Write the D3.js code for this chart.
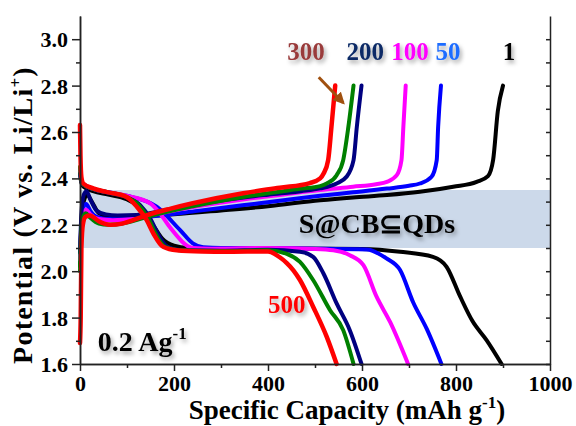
<!DOCTYPE html>
<html>
<head>
<meta charset="utf-8">
<script src="https://cdn.jsdelivr.net/npm/d3@7"></script>
<style>
body { margin: 0; background: #fff; }
svg { display: block; font-family: "Times New Roman", "Liberation Serif", serif; font-weight: bold; }
</style>
</head>
<body>
<svg width="576" height="426"></svg>
<script>
// cycle numbers and their colours
var cycles = ["1", "50", "100", "200", "300", "500"];
var colors = ["#000000", "#0000ff", "#ff00ff", "#000080", "#008000", "#ff0000"];

// charge curves [capacity mAh/g, potential V]
var charge1 = [[0,2.02],[3,2.22],[8,2.30],[15,2.33],[25,2.30],[40,2.25],[60,2.235],[100,2.232],[150,2.238],[200,2.245],[300,2.262],[400,2.28],[511,2.306],[581,2.318],[653,2.328],[723,2.342],[794,2.364],[844,2.385],[868,2.41],[879,2.48],[889,2.69],[900,2.8]];
var charge50 = [[0,2.05],[3,2.2],[8,2.28],[13,2.29],[22,2.26],[35,2.235],[60,2.225],[100,2.228],[170,2.24],[250,2.26],[350,2.285],[450,2.31],[511,2.325],[581,2.34],[653,2.356],[700,2.368],[723,2.378],[748,2.407],[759,2.479],[762,2.622],[768,2.8]];
var charge100 = [[0,2.05],[3,2.18],[8,2.25],[13,2.265],[22,2.245],[40,2.225],[70,2.22],[110,2.225],[170,2.25],[250,2.28],[350,2.31],[450,2.335],[511,2.35],[581,2.364],[630,2.375],[653,2.385],[674,2.414],[684,2.479],[688,2.622],[693,2.8]];
var charge200 = [[0,2.08],[3,2.25],[8,2.33],[14,2.345],[22,2.31],[35,2.262],[55,2.245],[80,2.24],[120,2.242],[200,2.27],[300,2.305],[400,2.33],[470,2.345],[511,2.357],[546,2.378],[567,2.407],[582,2.479],[589,2.622],[599,2.8]];
var charge300 = [[0,2.0],[2,2.15],[6,2.23],[12,2.25],[22,2.23],[40,2.205],[60,2.2],[90,2.205],[120,2.22],[150,2.238],[240,2.28],[347,2.32],[468,2.355],[511,2.367],[525,2.378],[546,2.414],[560,2.479],[571,2.622],[582,2.8]];
var charge500 = [[0,1.69],[1.5,1.8],[3,2.1],[6,2.2],[12,2.235],[21,2.24],[40,2.215],[64,2.2],[90,2.205],[113,2.22],[140,2.24],[193,2.27],[240,2.293],[347,2.336],[425,2.36],[489,2.38],[511,2.40],[518,2.42],[528,2.479],[535,2.622],[543,2.8]];

// discharge curves [capacity mAh/g, potential V]
var discharge1 = [[0,2.42],[3,2.38],[7,2.365],[28,2.345],[60,2.33],[99,2.31],[130,2.27],[155,2.2],[175,2.14],[200,2.11],[230,2.1],[300,2.098],[468,2.098],[600,2.096],[681,2.084],[751,2.062],[780,2.019],[809,1.89],[835,1.785],[865,1.703],[897,1.6]];
var discharge50 = [[0,2.44],[3,2.39],[7,2.375],[28,2.355],[60,2.34],[99,2.325],[163,2.278],[213,2.177],[240,2.12],[262,2.103],[300,2.1],[400,2.1],[468,2.098],[610,2.094],[652,2.055],[681,2.005],[709,1.865],[738,1.75],[769,1.6]];
var discharge100 = [[0,2.44],[3,2.39],[7,2.375],[28,2.355],[60,2.34],[99,2.325],[149,2.293],[170,2.25],[191,2.19],[241,2.1],[280,2.097],[400,2.1],[500,2.096],[539,2.09],[574,2.069],[603,2.026],[631,1.89],[660,1.78],[698,1.6]];
var discharge200 = [[0,2.42],[3,2.39],[7,2.375],[28,2.355],[60,2.338],[99,2.318],[128,2.285],[150,2.225],[165,2.165],[186,2.105],[215,2.09],[300,2.088],[400,2.092],[468,2.084],[496,2.062],[518,1.99],[546,1.861],[574,1.746],[599,1.6]];
var discharge300 = [[0,2.45],[1,2.42],[3,2.39],[7,2.375],[28,2.355],[60,2.34],[99,2.32],[125,2.285],[146,2.225],[160,2.165],[181,2.105],[210,2.09],[300,2.087],[400,2.09],[440,2.075],[468,2.04],[496,1.962],[532,1.832],[560,1.746],[582,1.6]];
var discharge500 = [[0,2.63],[1,2.5],[3,2.405],[7,2.378],[28,2.357],[60,2.34],[99,2.32],[121,2.278],[142,2.22],[156,2.163],[177,2.105],[206,2.09],[260,2.085],[312,2.084],[400,2.085],[425,2.06],[440,2.035],[454,2.004],[468,1.962],[496,1.847],[525,1.717],[546,1.6]];

var chargeCurves = [charge1, charge50, charge100, charge200, charge300, charge500];
var dischargeCurves = [discharge1, discharge50, discharge100, discharge200, discharge300, discharge500];

var xTicks = [0, 200, 400, 600, 800, 1000];
var xMinor = [100, 300, 500, 700, 900];
var yTicks = [1.6, 1.8, 2.0, 2.2, 2.4, 2.6, 2.8, 3.0];
var yMinor = [1.7, 1.9, 2.1, 2.3, 2.5, 2.7, 2.9];
var bandRange = [2.10, 2.35];

var svg = d3.select("svg"),
    margin = {top: 16, right: 26, bottom: 62, left: 80},
    width = +svg.attr("width") - margin.left - margin.right,
    height = +svg.attr("height") - margin.top - margin.bottom,
    g = svg.append("g").attr("transform", "translate(" + margin.left + "," + margin.top + ")");

var x = d3.scaleLinear().domain([0, 1000]).range([0, width]);
var y = d3.scaleLinear().domain([1.6, 3.1]).range([height, 0]);

// soft shadow for the labels
var defs = svg.append("defs");
defs.append("filter").attr("id", "shadow")
    .attr("x", "-20%").attr("y", "-20%").attr("width", "150%").attr("height", "160%")
  .append("feDropShadow").attr("dx", 2).attr("dy", 3).attr("stdDeviation", 2)
    .attr("flood-color", "#000").attr("flood-opacity", 0.35);

defs.append("marker")
    .attr("id", "arrow").attr("viewBox", "0 0 10 10")
    .attr("refX", 8).attr("refY", 5)
    .attr("markerWidth", 4).attr("markerHeight", 4)
    .attr("orient", "auto")
  .append("path").attr("d", "M0,0L10,5L0,10z").attr("fill", "#a0500f");

// shaded band
g.append("rect")
    .attr("x", x(0)).attr("width", x(1000) - x(0))
    .attr("y", y(bandRange[1])).attr("height", y(bandRange[0]) - y(bandRange[1]))
    .attr("fill", "#ccd9ea");

var line = d3.line()
    .x(function(d) { return x(d[0]); })
    .y(function(d) { return y(d[1]); })
    .curve(d3.curveMonotoneX);

// curves, red drawn last
cycles.forEach(function(c, i) {
  [dischargeCurves[i], chargeCurves[i]].forEach(function(data) {
    g.append("path")
        .datum(data)
        .attr("fill", "none")
        .attr("stroke", colors[i])
        .attr("stroke-width", i == 5 ? 4.5 : 4)
        .attr("stroke-linejoin", "round")
        .attr("stroke-linecap", "round")
        .attr("d", line);
  });
});

// axes
function styleAxis(sel) {
  sel.attr("font-family", null).attr("font-size", null);
  sel.selectAll("path, line").attr("stroke", "#222").attr("stroke-width", 1.5);
  sel.selectAll("text").attr("fill", "#000").style("font-size", "22px");
}

g.append("g")
    .attr("transform", "translate(0," + height + ")")
    .call(d3.axisBottom(x).tickValues(xTicks).tickFormat(d3.format("d")).tickSize(7).tickSizeOuter(0))
    .call(styleAxis)
    .selectAll("text").attr("y", 27).attr("dy", 0);

g.append("g")
    .attr("transform", "translate(0," + height + ")")
    .call(d3.axisBottom(x).tickValues(xMinor).tickSize(4).tickFormat("").tickSizeOuter(0))
    .call(styleAxis);

g.append("g")
    .call(d3.axisLeft(y).tickValues(yTicks).tickFormat(d3.format(".1f")).tickSize(8).tickSizeOuter(0))
    .call(styleAxis)
    .selectAll("text").attr("x", -12).attr("dy", "0.34em");

g.append("g")
    .call(d3.axisLeft(y).tickValues(yMinor).tickSize(4).tickFormat("").tickSizeOuter(0))
    .call(styleAxis);

g.append("g")
    .attr("transform", "translate(" + width + ",0)")
    .call(d3.axisLeft(y).tickValues(yTicks.concat(yMinor)).tickSize(4).tickFormat("").tickSizeOuter(0))
    .call(styleAxis);

// axis titles
var xt = svg.append("text")
    .attr("x", 347).attr("y", 419)
    .attr("text-anchor", "middle")
    .style("font-size", "27px")
    .text("Specific Capacity (mAh g");
xt.append("tspan").attr("dy", -11).style("font-size", "17px").text("-1");
xt.append("tspan").attr("dy", 11).text(")");

var yt = svg.append("text")
    .attr("transform", "translate(32,215) rotate(-90)")
    .attr("text-anchor", "middle")
    .style("font-size", "28px")
    .style("letter-spacing", "1.2px")
    .text("Potential (V vs. Li/Li");
yt.append("tspan").attr("dy", -11).style("font-size", "17px").text("+");
yt.append("tspan").attr("dy", 11).text(")");

// cycle labels
var labels = [
  {t: "300", c: "#993a3a", cap: 481, v: 2.91},
  {t: "200", c: "#0b2a66", cap: 607, v: 2.91},
  {t: "100", c: "#ff00ff", cap: 702, v: 2.91},
  {t: "50", c: "#1e6cff", cap: 783, v: 2.91},
  {t: "1", c: "#000000", cap: 913, v: 2.91},
  {t: "500", c: "#ff0000", cap: 440, v: 1.82}
];
g.selectAll(".lab").data(labels).enter().append("text")
    .attr("class", "lab")
    .attr("x", function(d) { return x(d.cap); })
    .attr("y", function(d) { return y(d.v); })
    .attr("text-anchor", "middle")
    .attr("fill", function(d) { return d.c; })
    .attr("filter", "url(#shadow)")
    .style("font-size", "25px")
    .text(function(d) { return d.t; });

// arrow to the 300th cycle
g.append("line")
    .attr("x1", x(508)).attr("y1", y(2.836))
    .attr("x2", x(560)).attr("y2", y(2.726))
    .attr("stroke", "#a0500f").attr("stroke-width", 3)
    .attr("marker-end", "url(#arrow)");

var rate = g.append("text")
    .attr("x", x(38)).attr("y", y(1.657))
    .attr("filter", "url(#shadow)")
    .style("font-size", "28px")
    .text("0.2 Ag");
rate.append("tspan").attr("dy", -12).style("font-size", "17px").text("-1");

g.append("text")
    .attr("x", x(632)).attr("y", y(2.164))
    .attr("text-anchor", "middle")
    .attr("filter", "url(#shadow)")
    .style("font-size", "28px")
    .text("S@CB\u2286QDs");
</script>
</body>
</html>
